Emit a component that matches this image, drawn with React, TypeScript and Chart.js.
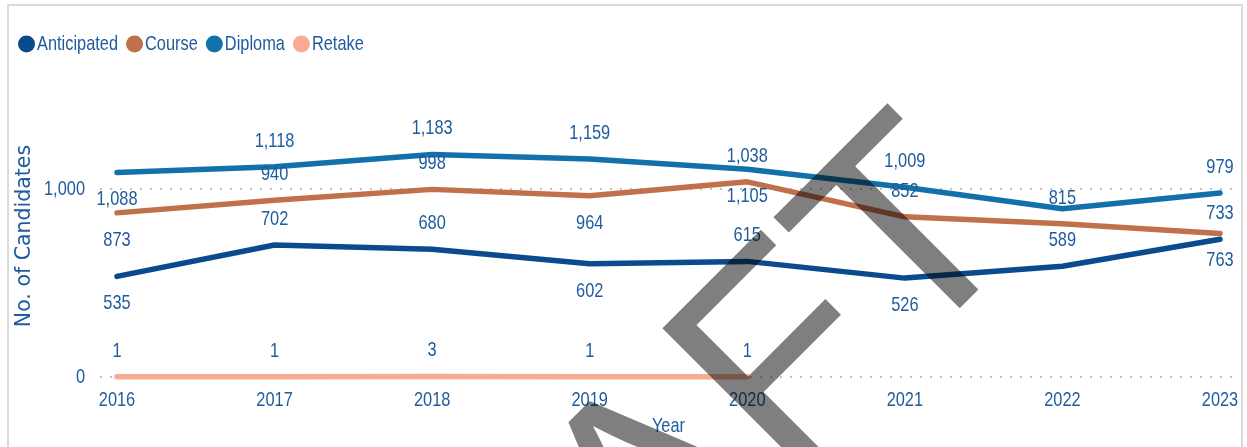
import React, { useEffect, useRef } from "react";
import { Chart, registerables } from "chart.js";

Chart.register(...registerables);

// ---- data ----
const years = ["2016", "2017", "2018", "2019", "2020", "2021", "2022", "2023"];
const anticipated = [535, 702, 680, 602, 615, 526, 589, 733];
const course = [873, 940, 998, 964, 1038, 852, 815, 763];
const diploma = [1088, 1118, 1183, 1159, 1105, 1009, 895, 979];
const retake: (number | null)[] = [1, 1, 3, 1, 1, null, null, null];
const yTicks = [0, 1000];

// label placement (style): a = above, b = below, h = hidden
const anticipatedPos = ["b", "a", "a", "b", "a", "b", "a", "a"];
const coursePos = ["b", "a", "a", "b", "a", "a", "a", "b"];
const diplomaPos = ["b", "a", "a", "a", "b", "a", "h", "a"];
const retakePos = ["a", "a", "a", "a", "a", "h", "h", "h"];

const COLORS = {
  anticipated: "#0C4A8E",
  course: "#C0704B",
  diploma: "#1271AA",
  retake: "#F8AA92",
  text: "#1F5B9D",
};

const FONT = '"Liberation Sans", Arial, sans-serif';
const FSIZE = 21;
const SQ = 0.78; // horizontal squeeze of the condensed text

const seriesMeta = [
  { label: "Anticipated", data: anticipated, color: COLORS.anticipated, pos: anticipatedPos },
  { label: "Course", data: course, color: COLORS.course, pos: coursePos },
  { label: "Diploma", data: diploma, color: COLORS.diploma, pos: diplomaPos },
  { label: "Retake", data: retake, color: COLORS.retake, pos: retakePos },
];

let squeeze = true;
function patchContext(ctx: any) {
  if (ctx.__sq) return;
  ctx.__sq = true;
  const orig = ctx.fillText;
  ctx.fillText = function (text: string, x: number, y: number, mw?: number) {
    if (!squeeze || /DejaVu/.test(this.font)) {
      return mw === undefined ? orig.call(this, text, x, y) : orig.call(this, text, x, y, mw);
    }
    this.save();
    this.translate(x, y);
    this.scale(SQ, 1);
    orig.call(this, text, 0, 0);
    this.restore();
  };
}

const gridPlugin = {
  id: "dottedGrid",
  beforeDatasetsDraw(chart: any) {
    const { ctx, chartArea } = chart;
    const ys = chart.scales.y;
    ctx.save();
    ctx.strokeStyle = "#c2c2c2";
    ctx.lineWidth = 2;
    ctx.setLineDash([2, 8]);
    yTicks.forEach((v) => {
      const y = ys.getPixelForValue(v);
      ctx.beginPath();
      ctx.moveTo(chartArea.left - 17, y);
      ctx.lineTo(chartArea.right + 17, y);
      ctx.stroke();
    });
    ctx.restore();
  },
};

const labelPlugin = {
  id: "dataLabels",
  afterDatasetsDraw(chart: any) {
    const { ctx } = chart;
    ctx.save();
    ctx.font = `${FSIZE}px ${FONT}`;
    ctx.fillStyle = COLORS.text;
    ctx.textAlign = "center";
    ctx.textBaseline = "middle";
    chart.data.datasets.forEach((ds: any, di: number) => {
      const meta = chart.getDatasetMeta(di);
      const pos = seriesMeta[di].pos;
      meta.data.forEach((pt: any, i: number) => {
        const v = ds.data[i];
        if (v === null || v === undefined || pos[i] === "h") return;
        const dy = pos[i] === "a" ? -26 : 27;
        ctx.fillText(Number(v).toLocaleString("en-US"), pt.x, pt.y + dy);
      });
    });
    ctx.restore();
  },
};

const legendPlugin = {
  id: "customLegend",
  afterDraw(chart: any) {
    const { ctx } = chart;
    ctx.save();
    ctx.font = `${FSIZE}px ${FONT}`;
    ctx.textAlign = "left";
    ctx.textBaseline = "middle";
    let x = 18;
    const cy = 44;
    chart.data.datasets.forEach((ds: any) => {
      ctx.fillStyle = ds.borderColor;
      ctx.beginPath();
      ctx.arc(x + 8.5, cy, 8.5, 0, Math.PI * 2);
      ctx.fill();
      const tx = x + 19;
      ctx.fillStyle = COLORS.text;
      ctx.fillText(ds.label, tx, cy);
      const w = ctx.measureText(ds.label).width * SQ;
      x = tx + w + 8;
    });
    ctx.restore();
  },
};

const watermarkPlugin = {
  id: "watermark",
  afterDraw(chart: any) {
    const { ctx } = chart;
    squeeze = false;
    ctx.save();
    ctx.translate(359, 909);
    ctx.rotate(-Math.PI / 4);
    ctx.font = `285px ${FONT}`;
    ctx.fillStyle = "rgba(0,0,0,0.5)";
    ctx.textAlign = "left";
    ctx.textBaseline = "alphabetic";
    ctx.fillText("DRAFT", 0, 0);
    ctx.restore();
    squeeze = true;
  },
};

export default function App() {
  const canvasRef = useRef<HTMLCanvasElement | null>(null);

  useEffect(() => {
    const canvas = canvasRef.current;
    if (!canvas) return;
    const ctx2d = canvas.getContext("2d");
    patchContext(ctx2d);
    const chart = new Chart(canvas, {
      type: "line",
      data: {
        labels: years,
        datasets: seriesMeta.map((s) => ({
          label: s.label,
          data: s.data,
          borderColor: s.color,
          backgroundColor: s.color,
          borderWidth: 5.5,
          borderCapStyle: "round",
          borderJoinStyle: "round",
          pointRadius: 0,
          pointHoverRadius: 0,
          tension: 0,
          spanGaps: false,
          clip: false,
        })),
      } as any,
      options: {
        animation: false,
        responsive: false,
        maintainAspectRatio: false,
        layout: { padding: { left: 0, right: 27, top: 95, bottom: 0 } },
        plugins: {
          legend: { display: false },
          tooltip: { enabled: false },
        },
        scales: {
          x: {
            offset: false,
            grid: { display: false, drawTicks: false },
            border: { display: false },
            afterFit: (scale: any) => {
              scale.height = 70;
              scale.paddingLeft = 0;
              scale.paddingRight = 0;
            },
            ticks: {
              color: COLORS.text,
              font: { family: FONT, size: FSIZE },
              padding: 11,
              maxRotation: 0,
              autoSkip: false,
            },
            title: {
              display: true,
              text: "Year",
              color: COLORS.text,
              font: { family: FONT, size: FSIZE },
              padding: { top: 2, bottom: 8 },
            },
          },
          y: {
            min: 0,
            max: 1500,
            grid: { display: false, drawTicks: false },
            border: { display: false },
            afterBuildTicks: (scale: any) => {
              scale.ticks = yTicks.map((v) => ({ value: v }));
            },
            afterFit: (scale: any) => {
              scale.width = 117;
              scale.paddingTop = 0;
              scale.paddingBottom = 0;
            },
            ticks: {
              color: COLORS.text,
              font: { family: FONT, size: FSIZE },
              padding: 32,
              callback: (v: any) => Number(v).toLocaleString("en-US"),
            },
            title: {
              display: true,
              text: "No. of Candidates",
              color: COLORS.text,
              font: { family: '"DejaVu Sans", sans-serif', size: 20.5 },
              padding: { top: 12, bottom: 0 },
            },
          },
        },
      } as any,
      plugins: [gridPlugin, labelPlugin, legendPlugin, watermarkPlugin],
    });
    return () => chart.destroy();
  }, []);

  return (
    <div style={{ position: "fixed", left: 0, top: 0, width: 1247, height: 447, overflow: "hidden", background: "#fff" }}>
      <div
        style={{
          position: "absolute",
          left: 7,
          top: 4,
          width: 1232,
          height: 480,
          border: "2px solid #dadada",
        }}
      />
      <canvas
        ref={canvasRef}
        width={1247}
        height={447}
        style={{ position: "absolute", left: 0, top: 0, width: 1247, height: 447 }}
      />
    </div>
  );
}
